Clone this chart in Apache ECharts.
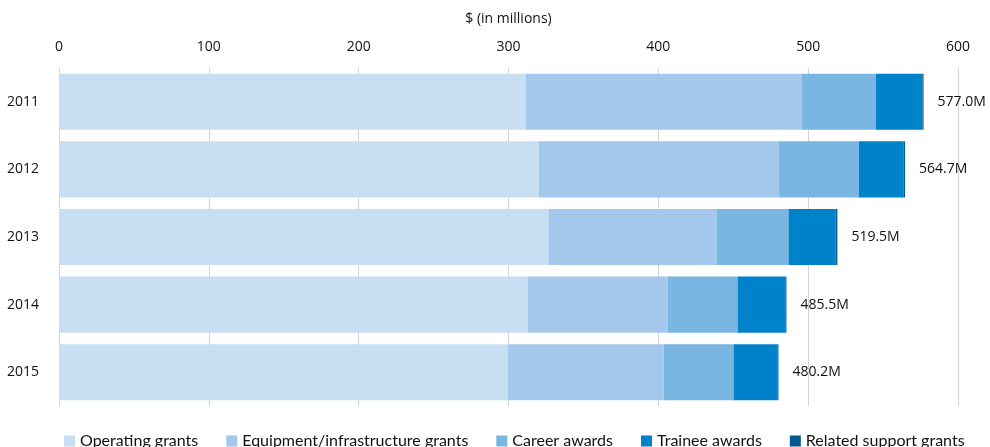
<!DOCTYPE html>
<html>
<head>
<meta charset="utf-8">
<script src="https://cdn.jsdelivr.net/npm/echarts@6/dist/echarts.min.js"></script>
<style>
  html, body { margin: 0; padding: 0; background: #fff; }
  #chart { width: 990px; height: 447px; }
</style>
</head>
<body>
<div id="chart"></div>
<script>
// Funding by year, $ millions, split by programme type
const years = ['2011', '2012', '2013', '2014', '2015'];
const operatingGrants = [311.4, 320.3, 326.7, 312.7, 299.8];
const equipmentGrants = [184.1, 160.3, 112.1, 93.5, 103.7];
const careerAwards = [49.6, 53.2, 48.1, 46.7, 46.7];
const traineeAwards = [31.1, 30.0, 31.3, 31.9, 29.3];
const relatedSupport = [0.8, 0.9, 1.3, 0.7, 0.7];
const totals = [577.0, 564.7, 519.5, 485.5, 480.2];
const xTicks = [0, 100, 200, 300, 400, 500, 600];

const seriesNames = ['Operating grants', 'Equipment/infrastructure grants', 'Career awards', 'Trainee awards', 'Related support grants'];
const seriesData = [operatingGrants, equipmentGrants, careerAwards, traineeAwards, relatedSupport];
const colors = ['#c7def3', '#a3c8eb', '#7ab6e2', '#0082cb', '#005a8e'];

const chart = echarts.init(document.getElementById('chart'), null, { renderer: 'canvas' });

const series = seriesNames.map((name, i) => {
  const s = {
    name: name,
    type: 'bar',
    stack: 'total',
    barCategoryGap: '17%',
    data: seriesData[i],
    itemStyle: { color: colors[i] },
    emphasis: { disabled: true }
  };
  if (i === seriesNames.length - 1) {
    s.label = {
      show: true,
      position: 'right',
      distance: 14,
      color: '#111',
      fontFamily: 'Open Sans',
      fontSize: 14,
      formatter: p => totals[p.dataIndex].toFixed(1) + 'M'
    };
  }
  return s;
});

chart.setOption({
  animation: false,
  color: colors,
  grid: { left: 59, right: 32, top: 68, bottom: 41 },
  legend: {
    left: 59,
    top: 428,
    icon: 'rect',
    itemWidth: 11,
    itemHeight: 11,
    itemGap: 28,
    textStyle: { fontFamily: 'Lato', fontSize: 16, lineHeight: 16, color: '#111', padding: [0, 0, 0, 0] },
    data: seriesNames
  },
  xAxis: {
    type: 'value',
    position: 'top',
    min: xTicks[0],
    max: xTicks[xTicks.length - 1],
    interval: 100,
    name: '$ (in millions)',
    nameLocation: 'middle',
    nameGap: 42,
    nameTextStyle: { fontFamily: 'Open Sans', fontSize: 14, color: '#111' },
    axisLine: { show: false },
    axisTick: { show: false },
    axisLabel: { margin: 14, fontFamily: 'Open Sans', fontSize: 14, color: '#111' },
    splitLine: { show: true, lineStyle: { color: '#d4d4d4', width: 1 } }
  },
  yAxis: {
    type: 'category',
    inverse: true,
    data: years,
    axisLine: { show: false },
    axisTick: { show: false },
    axisLabel: { margin: 52, align: 'left', fontFamily: 'Open Sans', fontSize: 14, color: '#111' }
  },
  series: series
});
</script>
</body>
</html>
